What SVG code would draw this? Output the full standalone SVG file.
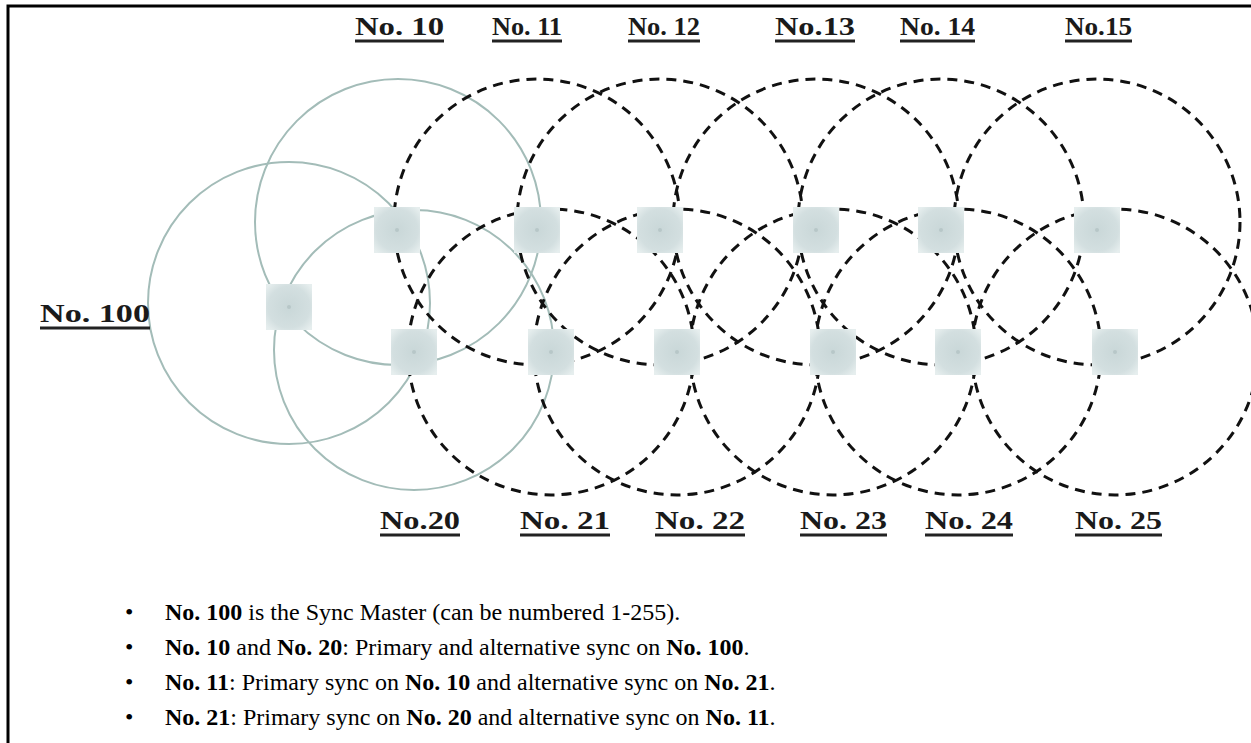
<svg xmlns="http://www.w3.org/2000/svg" width="1251" height="743" viewBox="0 0 1251 743">
<defs>
<radialGradient id="ng" cx="50%" cy="50%" r="65%">
<stop offset="0" stop-color="#c9d7d8"/>
<stop offset="0.7" stop-color="#d3dfe0"/>
<stop offset="1" stop-color="#e6eeee"/>
</radialGradient>
<g id="node">
<rect x="-23" y="-23" width="46" height="46" fill="url(#ng)"/>
<circle r="2" fill="#b7c7c8"/>
</g>
</defs>
<style>
.solid{fill:none;stroke:#a3bcb8;stroke-width:2}
.dash{fill:none;stroke:#111;stroke-width:3;stroke-dasharray:10 7}
.lbl{font-family:"Liberation Serif",serif;font-weight:bold;font-size:26px;fill:#1a1a1a}
.ul{stroke:#222;stroke-width:3}
.txt{font-family:"Liberation Serif",serif;font-size:24px;fill:#000}
.b{font-weight:bold}
</style>
<rect x="8" y="6" width="1300" height="800" fill="none" stroke="#000" stroke-width="3"/>
<g id="connectors">
<circle class="solid" cx="289" cy="303" r="141"/>
<circle class="solid" cx="398" cy="222" r="143"/>
<circle class="solid" cx="414" cy="350" r="140"/>
<circle class="dash" cx="537" cy="222" r="143"/>
<circle class="dash" cx="551" cy="352" r="143"/>
<circle class="dash" cx="660" cy="222" r="143"/>
<circle class="dash" cx="677" cy="352" r="143"/>
<circle class="dash" cx="816" cy="222" r="143"/>
<circle class="dash" cx="833" cy="352" r="143"/>
<circle class="dash" cx="941" cy="222" r="143"/>
<circle class="dash" cx="958" cy="352" r="143"/>
<circle class="dash" cx="1097" cy="222" r="143"/>
<circle class="dash" cx="1115" cy="352" r="143"/>
</g>
<g id="n100"><use href="#node" x="289" y="307"/><text class="lbl" x="40" y="322" textLength="110" lengthAdjust="spacingAndGlyphs">No. 100</text><line class="ul" x1="40" y1="328" x2="150" y2="328"/></g>
<g id="n10"><use href="#node" x="397" y="230"/><text class="lbl" x="355" y="35" textLength="89" lengthAdjust="spacingAndGlyphs">No. 10</text><line class="ul" x1="355" y1="41" x2="444" y2="41"/></g>
<g id="n11"><use href="#node" x="537" y="230"/><text class="lbl" x="492" y="35" textLength="70" lengthAdjust="spacingAndGlyphs">No. 11</text><line class="ul" x1="492" y1="41" x2="562" y2="41"/></g>
<g id="n12"><use href="#node" x="660" y="230"/><text class="lbl" x="628" y="35" textLength="72" lengthAdjust="spacingAndGlyphs">No. 12</text><line class="ul" x1="628" y1="41" x2="700" y2="41"/></g>
<g id="n13"><use href="#node" x="816" y="230"/><text class="lbl" x="775" y="35" textLength="80" lengthAdjust="spacingAndGlyphs">No.13</text><line class="ul" x1="775" y1="41" x2="855" y2="41"/></g>
<g id="n14"><use href="#node" x="941" y="230"/><text class="lbl" x="900" y="35" textLength="75" lengthAdjust="spacingAndGlyphs">No. 14</text><line class="ul" x1="900" y1="41" x2="975" y2="41"/></g>
<g id="n15"><use href="#node" x="1097" y="230"/><text class="lbl" x="1065" y="35" textLength="67" lengthAdjust="spacingAndGlyphs">No.15</text><line class="ul" x1="1065" y1="41" x2="1132" y2="41"/></g>
<g id="n20"><use href="#node" x="414" y="352"/><text class="lbl" x="380" y="529" textLength="80" lengthAdjust="spacingAndGlyphs">No.20</text><line class="ul" x1="380" y1="535" x2="460" y2="535"/></g>
<g id="n21"><use href="#node" x="551" y="352"/><text class="lbl" x="520" y="529" textLength="90" lengthAdjust="spacingAndGlyphs">No. 21</text><line class="ul" x1="520" y1="535" x2="610" y2="535"/></g>
<g id="n22"><use href="#node" x="677" y="352"/><text class="lbl" x="655" y="529" textLength="90" lengthAdjust="spacingAndGlyphs">No. 22</text><line class="ul" x1="655" y1="535" x2="745" y2="535"/></g>
<g id="n23"><use href="#node" x="833" y="352"/><text class="lbl" x="800" y="529" textLength="87" lengthAdjust="spacingAndGlyphs">No. 23</text><line class="ul" x1="800" y1="535" x2="887" y2="535"/></g>
<g id="n24"><use href="#node" x="958" y="352"/><text class="lbl" x="925" y="529" textLength="88" lengthAdjust="spacingAndGlyphs">No. 24</text><line class="ul" x1="925" y1="535" x2="1013" y2="535"/></g>
<g id="n25"><use href="#node" x="1115" y="352"/><text class="lbl" x="1075" y="529" textLength="87" lengthAdjust="spacingAndGlyphs">No. 25</text><line class="ul" x1="1075" y1="535" x2="1162" y2="535"/></g>
<g id="notes" class="txt">
<text x="125" y="620">•</text>
<text x="165" y="620"><tspan class="b">No. 100</tspan> is the Sync Master (can be numbered 1-255).</text>
<text x="125" y="655">•</text>
<text x="165" y="655"><tspan class="b">No. 10</tspan> and <tspan class="b">No. 20</tspan>: Primary and alternative sync on <tspan class="b">No. 100</tspan>.</text>
<text x="125" y="690">•</text>
<text x="165" y="690"><tspan class="b">No. 11</tspan>: Primary sync on <tspan class="b">No. 10</tspan> and alternative sync on <tspan class="b">No. 21</tspan>.</text>
<text x="125" y="725">•</text>
<text x="165" y="725"><tspan class="b">No. 21</tspan>: Primary sync on <tspan class="b">No. 20</tspan> and alternative sync on <tspan class="b">No. 11</tspan>.</text>
</g>
</svg>
